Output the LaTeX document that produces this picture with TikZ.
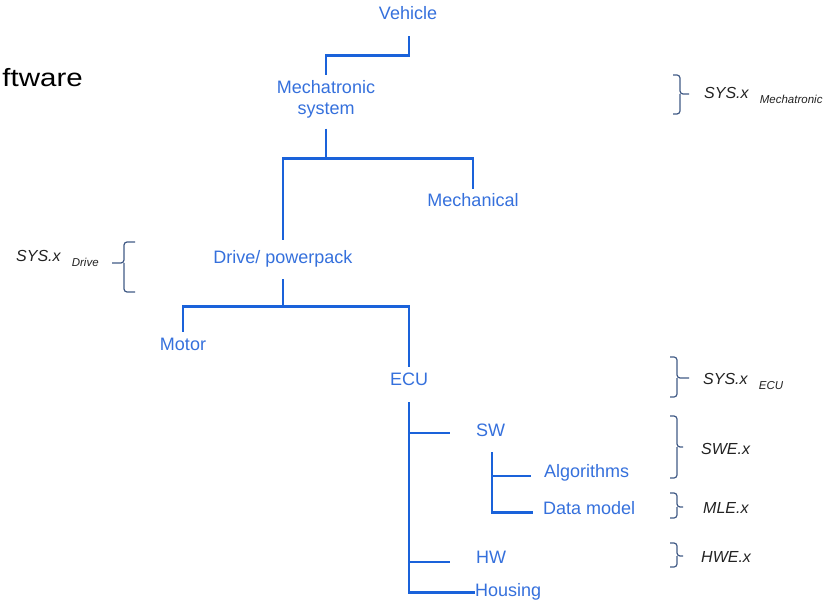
\documentclass[tikz,border=0pt]{standalone}
\usepackage{fontspec}
\setmainfont{Liberation Sans}
\usetikzlibrary{calc}

\definecolor{treeblue}{HTML}{1A62DA}
\definecolor{partblue}{HTML}{3570DC}
\definecolor{bracegray}{HTML}{405A85}
\definecolor{inkgray}{HTML}{222222}

\tikzset{
  ln/.style={treeblue, line width=2.9pt},
  partfont/.style={partblue, font=\fontsize{18}{21.5}\selectfont, inner sep=0pt},
  part/.style={partfont, text height=13pt, text depth=0pt, anchor=base},
  leaf/.style={part, anchor=base west},
  lvl/.style={inkgray, font=\fontsize{16}{19}\selectfont\itshape,
              inner sep=0pt, anchor=base west},
  brc/.style={bracegray, line width=1.2pt, rounded corners=3pt},
}

% level subscript, set small and lowered
\newcommand\lvlsub[1]{\hspace{0.7em}\raisebox{-5pt}{\fontsize{11.5}{13}\selectfont #1}}

% bracket: hook x, spine x, tip x, top y, middle y, bottom y
\newcommand\drawbrace[6]{%
  \draw[brc] (#1,#4) -- (#2,#4) -- (#2,#5) -- (#3,#5);
  \draw[brc] (#2,#5) -- (#2,#6) -- (#1,#6);
}

\begin{document}
\begin{tikzpicture}[x=1pt, y=-1pt]
\useasboundingbox (0,0) rectangle (832,601);

% cut-off heading at the left edge
\node[anchor=base east, inner sep=0pt, font=\fontsize{25}{29}\selectfont]
  (head) at (83,87) {\scalebox{1.18}[1]{ftware}};

% ---- product breakdown ----
\node[part] (veh) at (408,20) {Vehicle};
\node[partfont, align=center, anchor=north] (mech) at (326,80) {Mechatronic\\system};
\node[part] (mechl) at (473,207) {Mechanical};
\node[part] (drive) at (283,264) {Drive/ powerpack};
\node[part] (motor) at (183,350) {Motor};
\node[part] (ecu) at (409,385) {ECU};
\node[leaf] (sw) at (476,436) {SW};
\node[leaf] (alg) at (544,477) {Algorithms};
\node[leaf] (dm) at (543,514) {Data model};
\node[leaf] (hw) at (476,563) {HW};
\node[leaf] (hous) at (475,596) {Housing};

% ---- tree connectors ----
\draw[ln] ([shift={(1,16)}]veh.south) -- ++(0,19) -| ([shift={(0,-5)}]mech.north);
\draw[ln] ([shift={(0,10)}]mech.south) -- ++(0,30) coordinate (mb);
\draw[ln] ([shift={(0,-11)}]drive.north) |- (mb) -| ([shift={(0,-5)}]mechl.north);
\draw[ln] ([shift={(0,15)}]drive.south) -- ++(0,27) coordinate (db);
\draw[ln] ([shift={(0,-5)}]motor.north) |- (db) -| ([shift={(0,-5)}]ecu.north);
\coordinate (et) at ([shift={(0,17)}]ecu.south);
\draw[ln] (et) |- ([shift={(-26,3.5)}]sw.west);
\draw[ln] (et) |- ([shift={(-26,5.5)}]hw.west);
\draw[ln] (et) |- ([shift={(0,3)}]hous.west);
\coordinate (st) at ([shift={(16,16)}]sw.south west);
\draw[ln] (st) |- ([shift={(-13,5.5)}]alg.west);
\draw[ln] (st) |- ([shift={(-10,5)}]dm.west);

% ---- level labels ----
\node[lvl] (lmech) at (704,99) {SYS.x\lvlsub{Mechatronic}};
\node[lvl] (ldrive) at (16,262) {SYS.x\lvlsub{Drive}};
\node[lvl] (lecu) at (703,384) {SYS.x\lvlsub{ECU}};
\node[lvl] (lswe) at (701,454) {SWE.x};
\node[lvl] (lmle) at (703,513) {MLE.x};
\node[lvl] (lhwe) at (701,562) {HWE.x};

% ---- brackets ----
\drawbrace{673}{680}{689}{75}{94}{114}
\drawbrace{135}{124}{112}{242}{263}{292}
\drawbrace{670}{677}{689}{357}{378}{397}
\drawbrace{670}{677}{683}{416}{447}{478}
\drawbrace{670}{677}{683}{493}{507}{518}
\drawbrace{670}{677}{683}{543}{556}{567}
\end{tikzpicture}
\end{document}
